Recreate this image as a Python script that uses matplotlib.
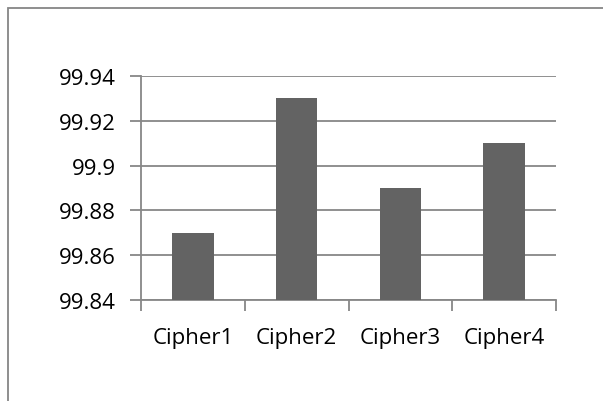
import matplotlib.pyplot as plt
from matplotlib.patches import Rectangle

categories = ["Cipher1", "Cipher2", "Cipher3", "Cipher4"]
values = [99.87, 99.93, 99.89, 99.91]
yticks = [99.84, 99.86, 99.88, 99.90, 99.92, 99.94]
ytick_labels = ["99.84", "99.86", "99.88", "99.9", "99.92", "99.94"]

plt.rcParams["font.family"] = ["Open Sans", "DejaVu Sans"]

grid_color = "#878787"
bar_color = "#636363"

fig = plt.figure(figsize=(6.03, 4.02), dpi=100)
fig.patches.append(Rectangle((8 / 603, -0.1), 1.2, 1.1 - 9 / 402,
                             transform=fig.transFigure, fill=False,
                             edgecolor="#868686", linewidth=1.3))

ax = fig.add_axes([141 / 603, 1 - 301 / 402, 415 / 603, 224 / 402])
x = range(len(categories))
ax.bar(x, [v - yticks[0] for v in values], bottom=yticks[0], width=0.4,
       color=bar_color, zorder=3)

ax.set_ylim(yticks[0], yticks[-1])
ax.set_xlim(-0.5, len(categories) - 0.5)
ax.set_yticks(yticks)
ax.set_yticklabels(ytick_labels)

# category boundaries carry the tick marks, centers carry the labels
ax.set_xticks([i - 0.5 for i in range(len(categories) + 1)])
ax.set_xticklabels([])
ax.set_xticks(list(x), minor=True)
ax.set_xticklabels(categories, minor=True)

ax.yaxis.grid(True, color=grid_color, linewidth=1.3, zorder=0)
for side in ["top", "right"]:
    ax.spines[side].set_visible(False)
for side in ["left", "bottom"]:
    ax.spines[side].set_color(grid_color)
    ax.spines[side].set_linewidth(1.3)

ax.tick_params(axis="y", length=8, width=1.3, color=grid_color,
               labelsize=16, pad=10)
ax.tick_params(axis="x", which="major", length=8, width=1.3, color=grid_color)
ax.tick_params(axis="x", which="minor", length=0, labelsize=16, pad=19.5)

fig.savefig("out.png", dpi=100)
